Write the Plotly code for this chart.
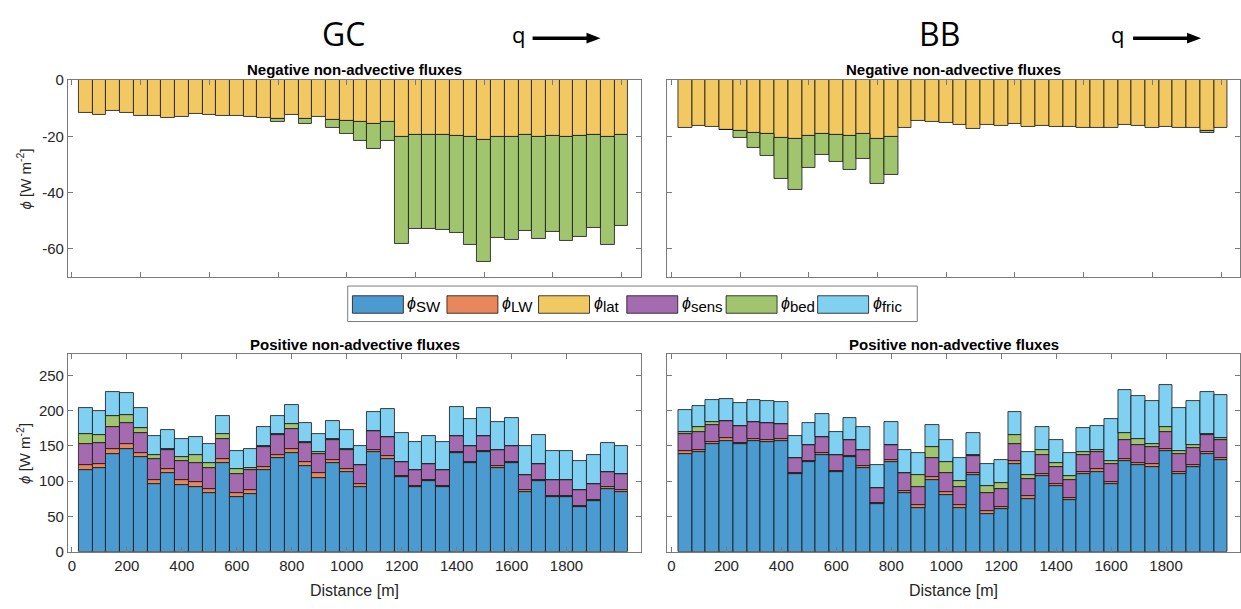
import plotly.graph_objects as go

W, H = 1241, 609

# Along-channel distance of each 50 m segment (bar centres)
distance = [50, 100, 150, 200, 250, 300, 350, 400, 450, 500,
            550, 600, 650, 700, 750, 800, 850, 900, 950, 1000,
            1050, 1100, 1150, 1200, 1250, 1300, 1350, 1400, 1450, 1500,
            1550, 1600, 1650, 1700, 1750, 1800, 1850, 1900, 1950, 2000]

# ---- GC: negative non-advective fluxes [W m-2]
gc_lat_neg = [-11.8, -12.3, -11.0, -11.8, -12.8, -12.8, -13.6, -13.2, -11.9, -12.5,
              -12.8, -12.7, -13.1, -13.5, -13.9, -12.5, -13.9, -13.3, -14.2, -14.5,
              -15.0, -15.6, -14.9, -20.3, -19.5, -19.5, -19.5, -19.8, -20.3, -21.3,
              -20.1, -20.1, -19.7, -20.1, -19.8, -20.1, -19.9, -19.5, -20.3, -19.5]
gc_bed_neg = [0, 0, 0, 0, 0, 0, 0, 0, 0, 0,
              0, 0, 0, 0, -1.0, 0, -1.7, 0, -2.8, -4.8,
              -6.5, -8.9, -6.9, -38.0, -33.5, -33.5, -33.9, -34.5, -38.2, -43.2,
              -36.1, -36.8, -34.1, -36.3, -34.2, -37.1, -35.8, -33.2, -38.2, -32.5]

# ---- BB: negative non-advective fluxes [W m-2]
bb_lat_neg = [-17.0, -16.3, -16.8, -17.6, -18.0, -18.7, -19.3, -20.6, -20.9, -19.8,
              -19.1, -19.4, -19.9, -19.3, -20.8, -20.2, -17.2, -14.7, -14.9, -15.1,
              -16.0, -17.4, -16.0, -16.2, -15.6, -16.6, -16.2, -16.8, -16.6, -17.0,
              -17.0, -17.0, -16.0, -16.3, -16.9, -16.8, -17.0, -17.0, -18.0, -17.2]
bb_bed_neg = [0, 0, 0, -0.3, -2.7, -5.3, -7.7, -14.6, -18.0, -11.5,
              -7.6, -9.8, -12.2, -8.9, -16.1, -13.7, 0, 0, 0, 0,
              0, 0, 0, 0, 0, 0, 0, 0, 0, 0,
              0, 0, 0, 0, 0, 0, 0, 0, -0.7, 0]

# ---- GC: positive non-advective fluxes [W m-2]
gc_sw = [116, 118, 139, 145.5, 134, 96.5, 112, 95, 91, 83,
         126, 77, 82, 115, 132.5, 139.5, 121.5, 104.5, 126, 113,
         92, 140.5, 131, 105.5, 92, 100, 91.5, 139.5, 125.5, 141,
         119, 125.5, 84.5, 100, 78, 78, 63.5, 71.5, 89, 85]
gc_lw = [7, 6, 6.5, 7.5, 6, 5.5, 5.5, 6, 7, 6,
         5.5, 5.5, 6, 4.5, 5, 6, 5.5, 6.5, 4.5, 4.5,
         3.5, 3.5, 4.5, 1, 1, 1, 2, 2, 1, 1.5,
         2, 2, 3, 2, 1, 1, 1.5, 1.5, 2, 2]
gc_sens = [29, 30, 30.5, 29.5, 28.5, 29, 27, 27, 28, 30,
           28, 28, 27, 29, 27.5, 28.5, 27.5, 27, 28, 27,
           27.5, 27, 27, 21, 22.5, 23.5, 22.5, 22.5, 22.5, 21.5,
           23.5, 21.5, 21.5, 22.5, 22.5, 22.5, 23, 23, 22.5, 23.5]
gc_bed = [14, 11, 16, 11, 6.5, 6, 0.5, 6, 10.5, 6,
          6.5, 6.5, 3, 1, 1, 6.5, 0.5, 2.5, 1, 0.5,
          0, 0, 0, 0, 0, 0, 0, 0, 0, 0,
          0, 0, 0, 0, 0, 0, 0, 0, 0, 0]
gc_fric = [37, 34, 33.5, 31, 29, 27.5, 27, 26, 26.5, 27,
           26, 26, 27, 27, 26, 27.5, 27, 26.5, 26, 27,
           27, 27, 40, 40.5, 40, 39, 40, 40.5, 39.5, 40,
           39.5, 41, 40, 40.5, 41, 41, 40.5, 40.5, 40, 39.5]

# ---- BB: positive non-advective fluxes [W m-2]
bb_sw = [139, 140.5, 152, 157, 152, 157, 155.5, 156.5, 109.5, 126.5,
         137, 113.5, 133.5, 119, 68, 127.5, 83, 62, 101.5, 80.5,
         62, 108, 54, 61, 124.5, 74.5, 107.5, 93, 73, 110,
         113.5, 96, 128, 123, 120.5, 142.5, 110.5, 120, 138.5, 129.5]
bb_lw = [3.5, 4, 3, 4, 2, 3, 2.5, 2.5, 1.5, 1.5,
         2.5, 1, 2, 2.5, 0.5, 2, 3.5, 3.5, 4, 4.5,
         3.5, 3.5, 4, 2.5, 3.5, 4, 2.5, 3, 3, 3,
         3, 3, 3.5, 2.5, 3, 2.5, 3, 3, 3, 3]
bb_sens = [24.5, 25.5, 24.5, 24, 24, 24, 24, 22, 21.5, 22.5,
           23.5, 23, 22, 23, 21.5, 22, 25.5, 26.5, 27, 26,
           25.5, 23.5, 25.5, 25.5, 25, 24.5, 26.5, 24, 25, 24,
           24, 25, 26, 25.5, 24.5, 24.5, 25.5, 24.5, 23.5, 25]
bb_bed = [2, 6, 3.5, 0, 0, 0, 0, 0, 0, 0,
          0, 0, 0, 0, 0, 0, 0, 16, 15.5, 15.5,
          9, 2, 9, 8, 12.5, 5.5, 7.5, 5.5, 5.5, 3.5,
          4, 4, 10.5, 8, 5, 6.5, 4, 3.5, 1.5, 3.5]
bb_fric = [32, 31, 31.5, 31.5, 32, 31.5, 32, 31, 31.5, 31.5,
           31.5, 31.5, 31.5, 31.5, 33, 31.5, 31.5, 31.5, 31.5, 31,
           32.5, 31.5, 32, 33, 32.5, 32.5, 32.5, 33, 33, 34.5,
           33.5, 60, 61, 61.5, 61, 60, 60.5, 62.5, 60, 60.5]

flux_names = ["SW", "LW", "lat", "sens", "bed", "fric"]
flux_colors = {
    "SW": "#4b9bd1",
    "LW": "#e8875c",
    "lat": "#f2c862",
    "sens": "#a56bb0",
    "bed": "#a1c56e",
    "fric": "#80d0f2",
}

EDGE = dict(color="rgba(20,20,20,0.8)", width=1)
AXIS_GREY = "#7a7a7a"
TEXT = "#262626"
FONT = "Liberation Sans, Arial, sans-serif"


def px_x(p):
    return p / W


def px_y(p):
    return 1 - p / H


fig = go.Figure()


def add_stack(xaxis, yaxis, series):
    for name, vals in series:
        fig.add_trace(go.Bar(
            x=distance, y=vals, width=50,
            marker=dict(color=flux_colors[name], line=EDGE),
            xaxis=xaxis, yaxis=yaxis, showlegend=False, name=name,
        ))


add_stack("x", "y", [("lat", gc_lat_neg), ("bed", gc_bed_neg)])
add_stack("x2", "y2", [("lat", bb_lat_neg), ("bed", bb_bed_neg)])
add_stack("x3", "y3", [("SW", gc_sw), ("LW", gc_lw), ("sens", gc_sens),
                       ("bed", gc_bed), ("fric", gc_fric)])
add_stack("x4", "y4", [("SW", bb_sw), ("LW", bb_lw), ("sens", bb_sens),
                       ("bed", bb_bed), ("fric", bb_fric)])

# panel boxes in pixels
left_x = (68, 642)
right_x = (668, 1241)
top_y = (73, 275.7)
bot_y = (355, 558.3)
scale = 0.275  # px per metre

common = dict(showline=True, linecolor=AXIS_GREY, linewidth=1, mirror="ticks",
              ticks="inside", ticklen=5, tickcolor=AXIS_GREY, tickwidth=1,
              showgrid=False, zeroline=False,
              tickfont=dict(family=FONT, size=15, color=TEXT))


def xrange_for(dom):
    w = dom[1] - dom[0]
    return [-14.5, -14.5 + w / scale]


top_ticks = [0, 250, 500, 750, 1000, 1250, 1500, 1750, 2000]
bot_ticks = [0, 200, 400, 600, 800, 1000, 1200, 1400, 1600, 1800]

fig.update_layout(
    xaxis=dict(domain=[px_x(left_x[0]), px_x(left_x[1])], range=xrange_for(left_x),
               tickvals=top_ticks, showticklabels=False, anchor="y", **common),
    yaxis=dict(domain=[px_y(top_y[1]), px_y(top_y[0])], range=[-70, 0],
               tickvals=[-60, -40, -20, 0], ticktext=["-60", "-40", "-20", "0"],
               anchor="x", **common),
    xaxis2=dict(domain=[px_x(right_x[0]), px_x(right_x[1])], range=xrange_for(right_x),
                tickvals=top_ticks, showticklabels=False, anchor="y2", **common),
    yaxis2=dict(domain=[px_y(top_y[1]), px_y(top_y[0])], range=[-70, 0],
                tickvals=[-60, -40, -20, 0], showticklabels=False, anchor="x2", **common),
    xaxis3=dict(domain=[px_x(left_x[0]), px_x(left_x[1])], range=xrange_for(left_x),
                tickvals=bot_ticks, anchor="y3", **common),
    yaxis3=dict(domain=[px_y(bot_y[1]), px_y(bot_y[0])], range=[0, 280],
                tickvals=[0, 50, 100, 150, 200, 250], anchor="x3", **common),
    xaxis4=dict(domain=[px_x(right_x[0]), px_x(right_x[1])], range=xrange_for(right_x),
                tickvals=bot_ticks, anchor="y4", **common),
    yaxis4=dict(domain=[px_y(bot_y[1]), px_y(bot_y[0])], range=[0, 280],
                tickvals=[0, 50, 100, 150, 200, 250], showticklabels=False,
                anchor="x4", **common),
    barmode="relative",
    bargap=0,
    width=W, height=H, autosize=False,
    margin=dict(l=0, r=0, t=0, b=0),
    paper_bgcolor="white", plot_bgcolor="white",
    showlegend=False,
)

annotations = []
shapes = []


def text(x, y, s, size, bold=False, family=FONT, angle=0, xanchor="center",
         yanchor="middle", color=TEXT):
    annotations.append(dict(
        x=px_x(x), y=px_y(y), xref="paper", yref="paper", text=s, showarrow=False,
        textangle=angle, xanchor=xanchor, yanchor=yanchor,
        font=dict(family=family, size=size, color=color,
                  weight="bold" if bold else "normal"),
    ))


# panel titles
for cx in ((left_x[0] + left_x[1]) / 2, (right_x[0] + right_x[1]) / 2):
    text(cx, 62, "Negative non-advective fluxes", 15, bold=True, color="black")
    text(cx, 345, "Positive non-advective fluxes", 15, bold=True, color="black")
    text(cx, 598, "Distance [m]", 16)

# y-axis labels
ylab = "<i>ϕ</i> [W m<sup>-2</sup>]"
text(24, (top_y[0] + top_y[1]) / 2, ylab, 15, angle=-90)
text(24, (bot_y[0] + bot_y[1]) / 2, ylab, 15, angle=-90)

# glacier headers with flow direction arrows
SANS2 = "Open Sans, sans-serif"
for label, lx, qx, a0 in (("GC", 344, 519, 533), ("BB", 940, 1118, 1134)):
    text(lx, 25, label, 32, family=SANS2, color="black")
    text(qx, 26, "q", 22, family=SANS2, color="black")
    shapes.append(dict(type="line", xref="paper", yref="paper",
                       x0=px_x(a0), x1=px_x(a0 + 56), y0=px_y(30), y1=px_y(30),
                       line=dict(color="black", width=3.5)))
    shapes.append(dict(type="path", xref="paper", yref="paper",
                       path=(f"M {px_x(a0 + 54)} {px_y(24.5)} L {px_x(a0 + 68)} {px_y(30)} "
                             f"L {px_x(a0 + 54)} {px_y(35.5)} Z"),
                       fillcolor="black", line=dict(color="black", width=0)))

# legend frame and entries
shapes.append(dict(type="rect", xref="paper", yref="paper",
                   x0=px_x(348), x1=px_x(918), y0=px_y(321.5), y1=px_y(285),
                   fillcolor="white", line=dict(color=AXIS_GREY, width=1), layer="below"))
legend_x = [352.7, 447.3, 539, 627.3, 726.7, 818.3]
for name, lx in zip(flux_names, legend_x):
    shapes.append(dict(type="rect", xref="paper", yref="paper",
                       x0=px_x(lx), x1=px_x(lx + 51), y0=px_y(313), y1=px_y(295),
                       fillcolor=flux_colors[name], line=EDGE))
    text(lx + 53, 304,
         f"<i>ϕ</i><sub><span style='font-size:15px'>{name}</span></sub>",
         16, xanchor="left", color="black")

fig.update_layout(annotations=annotations, shapes=shapes)

fig.write_html("out.html")
